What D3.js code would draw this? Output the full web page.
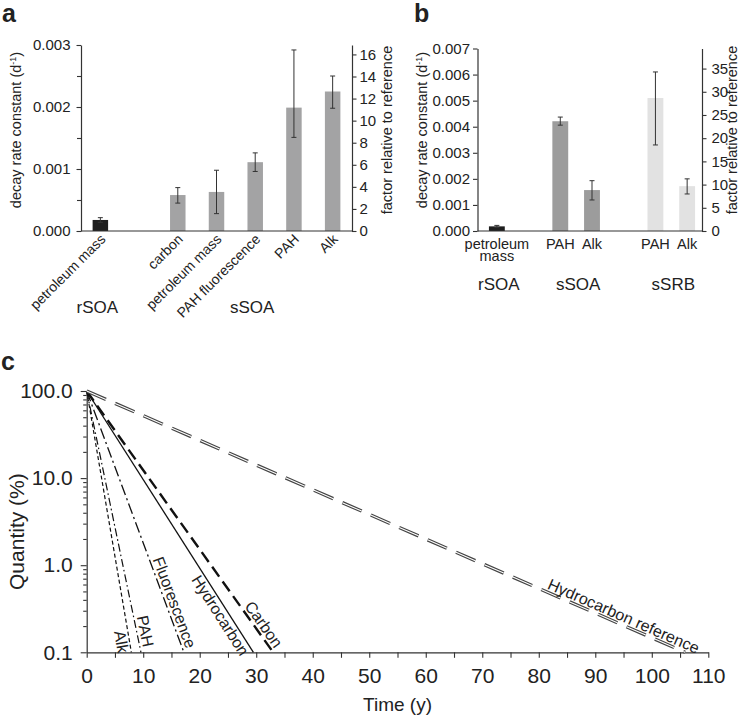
<!DOCTYPE html>
<html><head><meta charset="utf-8">
<script src="https://cdn.jsdelivr.net/npm/d3@7"></script>
<style>
body{margin:0;background:#fff}
svg{display:block}
text{font-family:"Liberation Sans",Arial,Helvetica,sans-serif;fill:#222}
</style>
</head><body><svg id="chart" width="743" height="718"></svg>
<script>
// ---------- Panel a data ----------
const aGroups  = ["rSOA","sSOA","sSOA","sSOA","sSOA","sSOA"];
const aLabels  = ["petroleum mass","carbon","petroleum mass","PAH fluorescence","PAH","Alk"];
const aValues  = [0.000178,0.00058,0.00063,0.00111,0.00199,0.00225];
const aErrLow  = [0.000140,0.00045,0.00028,0.00096,0.00151,0.00198];
const aErrHigh = [0.000215,0.00070,0.00098,0.00126,0.00292,0.00250];
const aYTicks  = [0,0.001,0.002,0.003];
const aYMinor  = [0.0005,0.0015,0.0025];
const aRightTicks = [0,2,4,6,8,10,12,14,16];

// ---------- Panel b data ----------
const bGroups  = ["rSOA","sSOA","sSOA","sSRB","sSRB"];
const bLabels  = ["petroleum mass","PAH","Alk","PAH","Alk"];
const bValues  = [0.000178,0.00421,0.00157,0.00510,0.00172];
const bErrLow  = [0.000140,0.00406,0.00119,0.00330,0.00142];
const bErrHigh = [0.000215,0.00437,0.00193,0.00610,0.00200];
const bYTicks  = [0,0.001,0.002,0.003,0.004,0.005,0.006,0.007];
const bRightTicks = [0,5,10,15,20,25,30,35];

const referenceRate = 0.000178; // rSOA petroleum mass decay rate (reference)

// ---------- Panel c data ----------
const cSeries = ["Alk","PAH","Fluorescence","Hydrocarbon","Carbon","Hydrocarbon reference"];
const cStartQuantity = 100;
const cEndQuantity = 0.1;
const cEndYears = [7.9, 9.6, 17.2, 29.5, 33.0, 105.9];
const cXTicks = [0,10,20,30,40,50,60,70,80,90,100,110];
const cXMinor = [5,15,25,35,45,55,65,75,85,95,105];
const cYTicks = [0.1,1,10,100];
const cYTickLabels = ["0.1","1.0","10.0","100.0"];

// ---------- drawing ----------
const svg = d3.select("#chart");
const AX = "#333";

function styleAxis(g, fs){
  g.select(".domain").attr("stroke", AX).attr("stroke-width", 1.2);
  g.selectAll(".tick line").attr("stroke", AX).attr("stroke-width", 1.1);
  g.selectAll(".tick text").attr("fill", "#222").style("font-size", fs + "px")
    .style("font-family", '"Liberation Sans",Arial,sans-serif');
}

function barPanel(cfg){
  const g = svg.append("g");
  const n = cfg.values.length;
  const slots = [];
  cfg.groups.forEach((gr,i)=>{ if(i>0 && gr!==cfg.groups[i-1]) slots.push("gap"+i); slots.push(String(i)); });
  const x = d3.scaleBand().domain(slots).range([cfg.bx0,cfg.bx1])
    .paddingInner(cfg.padIn).paddingOuter(cfg.padOut);
  const y = d3.scaleLinear().domain([0,cfg.yMax]).range([cfg.yBot,cfg.yTop]);
  const yR = d3.scaleLinear().domain([0,cfg.yMax/referenceRate]).range([cfg.yBot,cfg.yTop]);
  const idx = d3.range(n);
  const cx = i => x(String(i)) + x.bandwidth()/2;

  // bars
  g.selectAll("rect.bar").data(idx).join("rect")
    .attr("x", i => x(String(i))).attr("width", x.bandwidth())
    .attr("y", i => y(cfg.values[i])).attr("height", i => y(0)-y(cfg.values[i]))
    .attr("fill", i => cfg.colors[cfg.groups[i]]);
  // error bars
  const eg = g.selectAll("g.err").data(idx).join("g").attr("stroke","#333").attr("stroke-width",1);
  eg.append("line").attr("x1",cx).attr("x2",cx).attr("y1",i=>y(cfg.errLow[i])).attr("y2",i=>y(cfg.errHigh[i]));
  eg.append("line").attr("x1",i=>cx(i)-2.5).attr("x2",i=>cx(i)+2.5).attr("y1",i=>y(cfg.errLow[i])).attr("y2",i=>y(cfg.errLow[i]));
  eg.append("line").attr("x1",i=>cx(i)-2.5).attr("x2",i=>cx(i)+2.5).attr("y1",i=>y(cfg.errHigh[i])).attr("y2",i=>y(cfg.errHigh[i]));

  // x baseline
  g.append("line").attr("x1",cfg.x0).attr("x2",cfg.x1).attr("y1",cfg.yBot).attr("y2",cfg.yBot)
    .attr("stroke",AX).attr("stroke-width",1.2);

  // left axis
  const la = g.append("g").attr("transform",`translate(${cfg.x0},0)`)
    .call(d3.axisLeft(y).tickValues(cfg.yTicks).tickSize(4.5).tickSizeOuter(0).tickPadding(cfg.lPad).tickFormat(d3.format(".3f")));
  styleAxis(la, 15);
  if(cfg.yMinor){
    const lm = g.append("g").attr("transform",`translate(${cfg.x0},0)`)
      .call(d3.axisLeft(y).tickValues(cfg.yMinor).tickSize(4).tickSizeOuter(0).tickFormat(""));
    styleAxis(lm, 15); lm.select(".domain").remove();
  }
  // right axis
  const ra = g.append("g").attr("transform",`translate(${cfg.x1},0)`)
    .call(d3.axisRight(yR).tickValues(cfg.rightTicks).tickSize(4.5).tickSizeOuter(0).tickPadding(cfg.rPad));
  styleAxis(ra, 15);

  // x labels
  if(cfg.rotate){
    g.selectAll("text.xl").data(idx).join("text")
      .attr("transform", i => `translate(${cx(i)+6},${cfg.yBot+9}) rotate(-45)`)
      .attr("text-anchor","end").style("font-size","14px").text(i=>cfg.labels[i]);
  } else {
    const t = g.selectAll("text.xl").data(idx).join("text")
      .attr("x", cx).attr("y", cfg.yBot+18).attr("text-anchor","middle").style("font-size","14.5px");
    t.each(function(i){
      const words = cfg.labels[i].split(" ");
      const el = d3.select(this);
      words.forEach((w,k)=> el.append("tspan").attr("x",cx(i)).attr("dy", k===0?0:11.5).text(w));
    });
  }
  // group labels
  const groupNames = Array.from(new Set(cfg.groups));
  groupNames.forEach(gn=>{
    const members = idx.filter(i=>cfg.groups[i]===gn);
    const mx = d3.mean(members, cx);
    g.append("text").attr("x", mx + cfg.gShift).attr("y", cfg.gY).attr("text-anchor","middle")
      .style("font-size","17px").text(gn);
  });
  // axis titles
  const lt = g.append("text").attr("transform",`translate(${cfg.lTitleX},${cfg.titleY}) rotate(-90)`)
    .attr("text-anchor","middle").style("font-size","14.5px");
  lt.append("tspan").text("decay rate constant (d");
  lt.append("tspan").attr("dy",-5).style("font-size","9px").text("-1");
  lt.append("tspan").attr("dy",5).text(")");
  g.append("text").attr("transform",`translate(${cfg.rTitleX},${cfg.titleY}) rotate(-90)`)
    .attr("text-anchor","middle").style("font-size","14.5px").text("factor relative to reference");
}

barPanel({groups:aGroups,labels:aLabels,values:aValues,errLow:aErrLow,errHigh:aErrHigh,
  yTicks:aYTicks,yMinor:aYMinor,rightTicks:aRightTicks,yMax:0.003,
  x0:81,x1:352,bx0:81,bx1:352,yTop:45,yBot:231,padIn:0.6,padOut:0.3,lPad:6,rPad:3,
  colors:{rSOA:"#1e1e1e",sSOA:"#a3a3a4"},rotate:true,gY:313,gShift:-3,
  lTitleX:21,rTitleX:392,titleY:130});

barPanel({groups:bGroups,labels:bLabels,values:bValues,errLow:bErrLow,errHigh:bErrHigh,
  yTicks:bYTicks,yMinor:null,rightTicks:bRightTicks,yMax:0.007,
  x0:477.5,x1:702,bx0:481,bx1:703,yTop:48.5,yBot:231,padIn:0.5,padOut:0.25,lPad:3,rPad:5,
  colors:{rSOA:"#1e1e1e",sSOA:"#9c9c9c",sSRB:"#e2e2e2"},rotate:false,gY:290,gShift:2,
  lTitleX:427,rTitleX:737,titleY:130});

// panel letters
[["a",2,22],["b",414,22],["c",1,370]].forEach(([t,x,y])=>{
  svg.append("text").attr("x",x).attr("y",y).style("font-size","25px").style("font-weight","bold").attr("fill","#111").text(t);
});

// ---------- Panel c ----------
const c = svg.append("g");
const cx0=86.7, cx1=708.3, cyTop=391, cyBot=652.3;
const xC = d3.scaleLinear().domain([0,110]).range([cx0,cx1]);
const yC = d3.scaleLog().domain([0.1,100]).range([cyBot,cyTop]);

const xa = c.append("g").attr("transform",`translate(0,${cyBot})`)
  .call(d3.axisBottom(xC).tickValues(cXTicks).tickSize(5.5).tickSizeOuter(0).tickPadding(10).tickFormat(d3.format("d")));
styleAxis(xa, 21);
const xm = c.append("g").attr("transform",`translate(0,${cyBot})`)
  .call(d3.axisBottom(xC).tickValues(cXMinor).tickSize(5.5).tickSizeOuter(0).tickFormat(""));
styleAxis(xm, 21); xm.select(".domain").remove();

const ya = c.append("g").attr("transform",`translate(${cx0},0)`)
  .call(d3.axisLeft(yC).tickValues(cYTicks).tickSize(6).tickSizeOuter(0).tickPadding(8)
    .tickFormat((d,i)=>cYTickLabels[i]));
styleAxis(ya, 21);
const minorVals = [];
[0.1,1,10].forEach(dec=>{ for(let k=2;k<=9;k++) minorVals.push(dec*k); });
const ym = c.append("g").attr("transform",`translate(${cx0},0)`)
  .call(d3.axisLeft(yC).tickValues(minorVals).tickSize(3.5).tickSizeOuter(0).tickFormat(""));
styleAxis(ym, 21); ym.select(".domain").remove();

c.append("text").attr("transform",`translate(${24},${(cyTop+cyBot)/2+10}) rotate(-90)`)
  .attr("text-anchor","middle").style("font-size","21px").text("Quantity (%)");
c.append("text").attr("x",(cx0+cx1)/2).attr("y",711).attr("text-anchor","middle")
  .style("font-size","19px").text("Time (y)");

const lineGen = d3.line().x(d=>xC(d[0])).y(d=>yC(d[1]));
const cStyles = {
  "Alk":{dash:"4,2.6",w:1.2},
  "PAH":{dash:"8,3,1.6,3",w:1.2},
  "Fluorescence":{dash:"11,3.5,2,3.5",w:1.3},
  "Hydrocarbon":{dash:null,w:1.3},
  "Carbon":{dash:"12,6",w:2.4},
  "Hydrocarbon reference":{dash:"21,10",w:3.4,double:true}
};
const cLabelSide = {"Alk":"below","PAH":"above","Fluorescence":"above","Hydrocarbon":"below","Carbon":"above","Hydrocarbon reference":"above"};
const cLabelBack = {"Alk":1,"PAH":4,"Fluorescence":2,"Hydrocarbon":3,"Carbon":2,"Hydrocarbon reference":-11};

cSeries.forEach((name,i)=>{
  const pts = [[0,cStartQuantity],[cEndYears[i],cEndQuantity]];
  const st = cStyles[name];
  const p = c.append("path").attr("d",lineGen(pts)).attr("fill","none")
    .attr("stroke", st.double ? "#444" : "#111").attr("stroke-width",st.w);
  if(st.dash) p.attr("stroke-dasharray",st.dash);
  if(st.double){
    c.append("path").attr("d",lineGen(pts)).attr("fill","none").attr("stroke","#fff")
      .attr("stroke-width",1.1).attr("stroke-dasharray",st.dash);
  }
  // label along line
  const X0=xC(pts[0][0]), Y0=yC(pts[0][1]), X1=xC(pts[1][0]), Y1=yC(pts[1][1]);
  const L = Math.hypot(X1-X0,Y1-Y0), ux=(X1-X0)/L, uy=(Y1-Y0)/L;
  const ang = Math.atan2(Y1-Y0,X1-X0)*180/Math.PI;
  const b = cLabelBack[name];
  const ax = X1-ux*b, ay = Y1-uy*b;
  c.append("text").attr("transform",`translate(${ax},${ay}) rotate(${ang})`)
    .attr("text-anchor","end").attr("dy", cLabelSide[name]==="above" ? -3 : "0.85em")
    .style("font-size","16px").text(name);
});
</script>
</body></html>
